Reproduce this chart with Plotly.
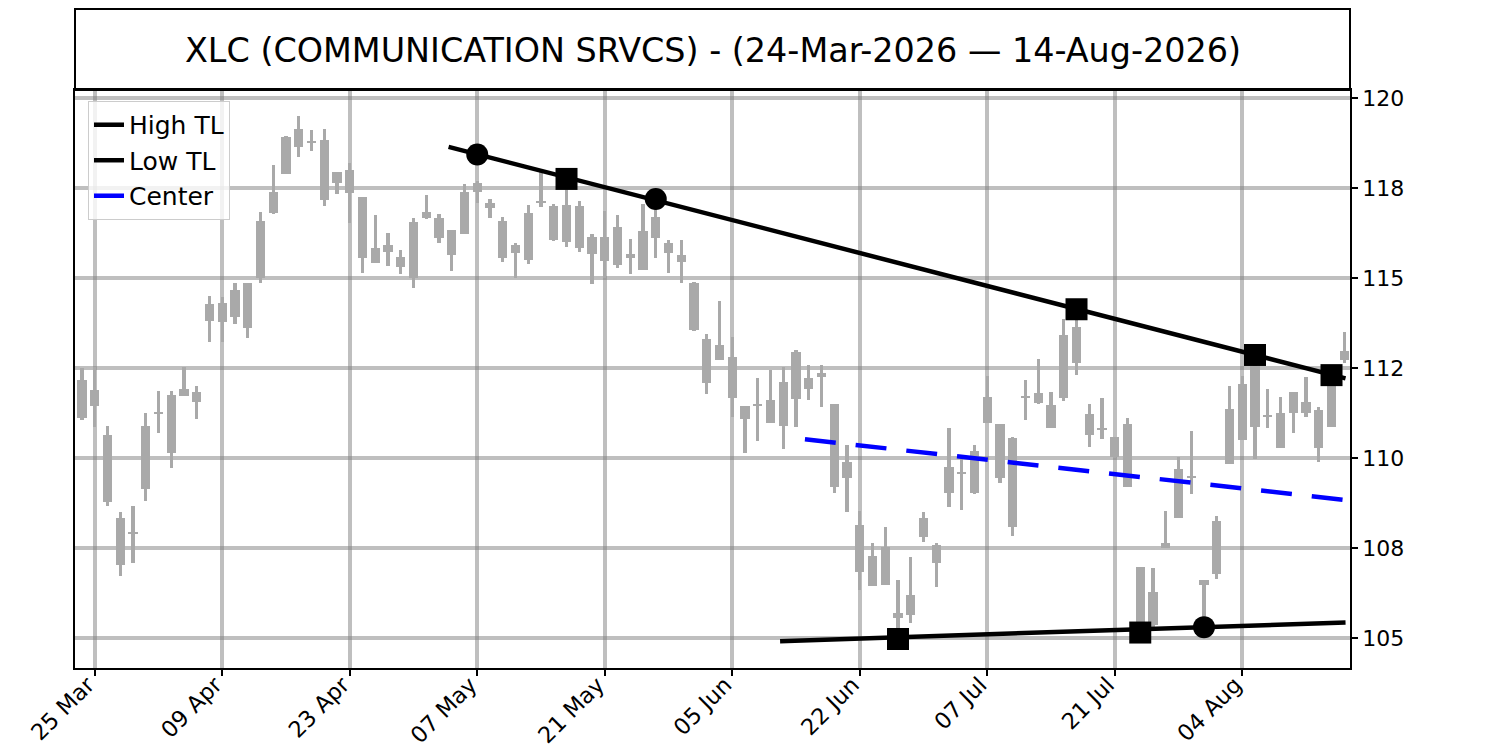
import pandas as pd
import plotly.graph_objects as go

# ---------------- data ----------------
holidays = ["2026-04-03", "2026-05-25", "2026-06-19", "2026-07-03"]
dates = [d for d in pd.bdate_range("2026-03-24", "2026-08-14") if d.strftime("%Y-%m-%d") not in holidays]

open_ = [111.11, 111.91, 110.65, 107.04, 107.91, 109.14, 111.25, 110.14, 111.92, 111.56,
         113.81, 113.79, 114.68, 113.63, 115.02, 116.81, 117.90, 119.14, 118.80, 118.84,
         117.96, 118.01, 117.25, 115.42, 115.93, 115.32, 115.00, 116.85, 116.68, 115.65,
         116.22, 117.66, 117.08, 116.59, 115.71, 115.51, 117.11, 117.01, 117.04, 117.01,
         116.16, 115.48, 116.43, 115.56, 115.23, 116.71, 115.97, 115.65, 114.86, 113.31,
         113.15, 112.81, 111.45, 111.48, 110.97, 110.90, 112.96, 111.92, 112.36, 111.50,
         109.91, 108.15, 106.45, 107.54, 105.56, 105.65, 108.33, 107.10, 109.03, 109.58,
         109.03, 111.71, 110.95, 108.08, 111.69, 111.81, 110.83, 111.67, 113.66, 111.23,
         110.85, 110.58, 110.95, 106.98, 105.37, 107.50, 108.33, 109.51, 106.48, 106.79,
         109.84, 110.51, 112.56, 111.19, 110.28, 111.85, 111.57, 110.28, 110.86, 112.73]
high = [112.50, 112.54, 110.90, 108.52, 108.67, 111.27, 111.87, 111.87, 112.54, 112.01,
        114.51, 114.47, 114.86, 114.86, 116.83, 118.15, 118.96, 119.51, 119.12, 119.14,
        117.96, 118.21, 117.25, 116.76, 116.25, 115.79, 116.68, 117.31, 116.78, 116.34,
        117.61, 117.71, 117.19, 116.71, 115.97, 117.04, 117.98, 117.06, 117.73, 117.15,
        116.23, 116.87, 116.76, 116.08, 117.06, 117.15, 116.06, 116.06, 114.91, 113.45,
        114.37, 113.38, 111.45, 112.22, 112.45, 112.53, 113.01, 112.59, 112.59, 111.50,
        110.37, 108.54, 107.64, 108.08, 106.62, 107.27, 108.50, 107.64, 110.83, 110.00,
        110.37, 112.29, 110.95, 110.60, 112.18, 112.76, 111.83, 113.86, 114.00, 111.51,
        111.68, 110.60, 111.11, 106.98, 106.94, 108.54, 110.04, 110.76, 106.62, 108.40,
        112.01, 112.29, 112.90, 111.92, 111.69, 111.85, 112.27, 111.43, 112.50, 113.52]
low = [111.06, 110.86, 108.67, 106.74, 107.08, 108.82, 110.71, 109.72, 111.73, 111.08,
       113.24, 113.24, 113.72, 113.33, 114.86, 116.78, 117.90, 118.38, 118.54, 117.02,
       117.33, 116.54, 115.14, 115.42, 115.35, 115.11, 114.72, 116.64, 115.99, 115.21,
       116.22, 117.08, 116.67, 115.46, 115.00, 115.39, 116.97, 116.04, 115.88, 115.74,
       114.83, 115.02, 115.28, 115.11, 115.23, 115.57, 115.16, 114.86, 113.54, 111.78,
       112.73, 111.16, 110.14, 110.49, 110.97, 110.25, 110.88, 111.62, 111.43, 109.03,
       108.52, 106.34, 106.45, 106.48, 105.10, 105.42, 107.68, 106.42, 108.66, 108.56,
       109.00, 110.97, 109.31, 107.84, 111.06, 111.51, 110.83, 111.60, 112.30, 110.32,
       110.53, 110.00, 109.21, 105.14, 105.32, 107.50, 108.33, 109.00, 105.32, 106.64,
       109.84, 110.51, 109.97, 110.83, 110.28, 110.71, 111.14, 109.91, 110.86, 112.66]
close = [112.18, 111.45, 108.79, 108.35, 107.95, 110.90, 111.29, 111.76, 111.73, 111.85,
         114.29, 114.31, 113.93, 114.86, 116.59, 117.39, 118.93, 118.64, 118.76, 117.17,
         117.66, 117.38, 115.56, 115.83, 115.74, 115.60, 116.57, 116.68, 116.11, 116.34,
         117.41, 117.41, 116.94, 115.56, 115.93, 116.81, 117.15, 116.06, 116.02, 115.83,
         115.67, 116.14, 115.37, 115.68, 116.31, 116.11, 115.69, 115.46, 113.56, 112.08,
         112.73, 111.67, 111.08, 111.52, 111.62, 112.13, 111.64, 112.22, 112.25, 109.21,
         109.44, 106.85, 107.29, 106.48, 105.69, 106.20, 107.82, 107.59, 109.75, 109.62,
         110.21, 110.99, 109.44, 110.56, 111.73, 111.54, 111.48, 113.42, 112.64, 110.65,
         110.81, 110.04, 109.21, 105.32, 106.29, 107.66, 109.69, 109.47, 106.62, 108.27,
         111.36, 112.06, 110.86, 111.15, 111.27, 111.25, 111.25, 111.34, 112.27, 112.99]

# trend lines (x in trading-day index units)
high_tl_x = [28.75, 99.1]
high_tl_y = [118.65, 112.22]
low_tl_x = [54.75, 99.1]
low_tl_y = [104.92, 105.44]
center_x = [56.7, 99.1]
center_y = [110.53, 108.84]

# pivot markers
high_piv_idx = [31, 38, 45, 78, 92, 98]
high_piv_val = [118.44, 117.76, 117.20, 114.14, 112.87, 112.31]
high_piv_sym = ["circle", "square", "circle", "square", "square", "square"]
low_piv_idx = [64, 83, 88]
low_piv_val = [104.98, 105.16, 105.31]
low_piv_sym = ["square", "square", "circle"]

y_tick_vals = [105, 107.5, 110, 112.5, 115, 117.5, 120]
y_tick_text = ["105", "108", "110", "112", "115", "118", "120"]
x_tick_idx = list(range(1, len(dates), 10))
x_tick_text = [dates[i].strftime("%d %b") for i in x_tick_idx]

title = "XLC (COMMUNICATION SRVCS) - (24-Mar-2026 \u2014 14-Aug-2026)"

# ---------------- figure ----------------
idx = list(range(len(dates)))
body_base = [min(o, c) for o, c in zip(open_, close)]
body_h = [abs(c - o) for o, c in zip(open_, close)]
wick_h = [h - l for h, l in zip(high, low)]

CANDLE = "#a9a9a9"
FONT = "DejaVu Sans"

fig = go.Figure()
fig.add_trace(go.Bar(x=idx, y=wick_h, base=low, width=0.27, marker=dict(color=CANDLE, line=dict(width=0)),
                     showlegend=False, hoverinfo="skip"))
fig.add_trace(go.Bar(x=idx, y=body_h, base=body_base, width=0.72, marker=dict(color=CANDLE, line=dict(width=0)),
                     showlegend=False, hoverinfo="skip"))

fig.add_trace(go.Scatter(x=high_tl_x, y=high_tl_y, mode="lines", name="High TL",
                         line=dict(color="black", width=4.5), legendgroup="a"))
fig.add_trace(go.Scatter(x=low_tl_x, y=low_tl_y, mode="lines", name="Low TL",
                         line=dict(color="black", width=4.5), legendgroup="b"))
fig.add_trace(go.Scatter(x=center_x, y=center_y, mode="lines", name="Center",
                         line=dict(color="blue", width=4.5, dash="31px,20px"), legendgroup="c"))
fig.add_trace(go.Scatter(x=high_piv_idx, y=high_piv_val, mode="markers", showlegend=False,
                         marker=dict(color="black", size=22, symbol=high_piv_sym, line=dict(width=0))))
fig.add_trace(go.Scatter(x=low_piv_idx, y=low_piv_val, mode="markers", showlegend=False,
                         marker=dict(color="black", size=22, symbol=low_piv_sym, line=dict(width=0))))

# title box
fig.add_shape(type="rect", xref="paper", yref="paper", x0=0, x1=1, y0=1, y1=1.1401,
              line=dict(color="black", width=2), fillcolor="rgba(0,0,0,0)")
fig.add_annotation(text=title, xref="paper", yref="paper", x=0.5, y=1.0692, xanchor="center",
                   yanchor="middle", showarrow=False, font=dict(size=33.4, color="black", family=FONT))

GRID = "rgba(128,128,128,0.5)"
XTICKFONT = dict(size=22.5, family=FONT, color="black")
YTICKFONT = dict(size=22, family=FONT, color="black")
fig.update_layout(
    width=1500, height=750,
    margin=dict(l=67, r=158, t=82, b=90, autoexpand=False),
    paper_bgcolor="white", plot_bgcolor="white",
    barmode="overlay", bargap=0,
    font=dict(family=FONT, color="black"),
    showlegend=True,
    legend=dict(x=0.0102, y=0.981, xanchor="left", yanchor="top",
                bgcolor="rgba(255,255,255,0.8)", bordercolor="#cccccc", borderwidth=1,
                font=dict(size=25, family=FONT, color="black"), tracegroupgap=0,
                itemwidth=30),
    xaxis=dict(range=[-0.55, 99.45], tickmode="array", tickvals=x_tick_idx, ticktext=x_tick_text,
               tickangle=-45, ticks="outside", ticklen=6, tickwidth=1.5, tickcolor="black",
               tickfont=XTICKFONT, automargin=False, ticklabelstandoff=-13, ticklabelshift=-7,
               showgrid=True, gridcolor=GRID, gridwidth=4, zeroline=False,
               showline=True, linecolor="black", linewidth=1.5, mirror=True),
    yaxis=dict(range=[104.175, 120.23], side="right", tickmode="array", tickvals=y_tick_vals,
               ticktext=y_tick_text, ticks="outside", ticklen=6, tickwidth=1.5, tickcolor="black",
               tickfont=YTICKFONT, automargin=False,
               showgrid=True, gridcolor=GRID, gridwidth=4, zeroline=False,
               showline=True, linecolor="black", linewidth=1.5, mirror=True),
)

fig.write_html("out.html")
